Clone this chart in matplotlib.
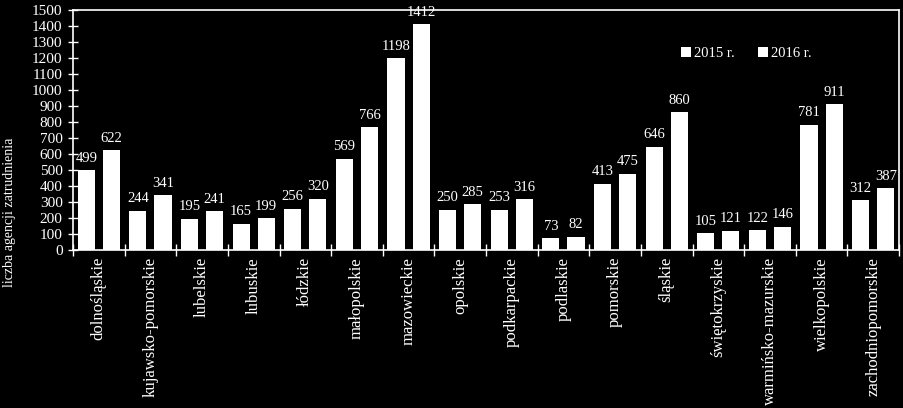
import matplotlib.pyplot as plt
from matplotlib.patches import Patch
import numpy as np

plt.rcParams['font.family'] = ['Liberation Serif', 'DejaVu Serif']

regions = ['dolnośląskie', 'kujawsko-pomorskie', 'lubelskie', 'lubuskie', 'łódzkie',
           'małopolskie', 'mazowieckie', 'opolskie', 'podkarpackie', 'podlaskie',
           'pomorskie', 'śląskie', 'świętokrzyskie', 'warmińsko-mazurskie',
           'wielkopolskie', 'zachodniopomorskie']
v2015 = [499, 244, 195, 165, 256, 569, 1198, 250, 253, 73, 413, 646, 105, 122, 781, 312]
v2016 = [622, 341, 241, 199, 320, 766, 1412, 285, 316, 82, 475, 860, 121, 146, 911, 387]
series_names = ['2015 r.', '2016 r.']

fig = plt.figure(figsize=(9.04, 4.08), dpi=100, facecolor='black')
ax = fig.add_axes([73/904, 1-250/408, (899-73)/904, 240/408])
ax.set_facecolor('black')

x = np.arange(len(regions))
w = 0.33
b1 = ax.bar(x - 0.243, v2015, w, color='white')
b2 = ax.bar(x + 0.243, v2016, w, color='white')

# value labels above the bars
for bars, vals in ((b1, v2015), (b2, v2016)):
    for r, v in zip(bars, vals):
        ax.annotate(str(v), (r.get_x() + r.get_width()/2, v), xytext=(0, 4),
                    textcoords='offset points', ha='center', va='bottom',
                    color='white', fontsize=10.5, clip_on=False)

ax.set_xlim(-0.5, len(regions) - 0.5)
ax.set_ylim(0, 1500)
ax.set_yticks(range(0, 1501, 100))
ax.set_xticks(x)
ax.set_xticklabels(regions, rotation=90, color='white', fontsize=12)
ax.tick_params(axis='x', which='major', length=0, pad=5)
ax.set_xticks(np.arange(-0.5, len(regions), 1), minor=True)
ax.tick_params(axis='x', which='minor', direction='inout', length=8, color='white', width=1)
ax.tick_params(axis='y', direction='inout', length=7, color='white', width=1,
               labelcolor='white', labelsize=11, pad=4)

for s in ax.spines.values():
    s.set_color('white')
    s.set_linewidth(1.2)

ax.set_ylabel('liczba agencji zatrudnienia', color='white', fontsize=10)
ax.yaxis.set_label_coords(-0.069, 0.158)

handles = [Patch(facecolor='white'), Patch(facecolor='white')]
leg = ax.legend(handles, series_names, loc='upper left', bbox_to_anchor=(0.72, 0.9),
                ncol=2, frameon=False, handlelength=0.7, handleheight=0.7,
                handletextpad=0.2, columnspacing=1.6, fontsize=10.5)
for t in leg.get_texts():
    t.set_color('white')

fig.savefig('out.png', dpi=100, facecolor='black')
